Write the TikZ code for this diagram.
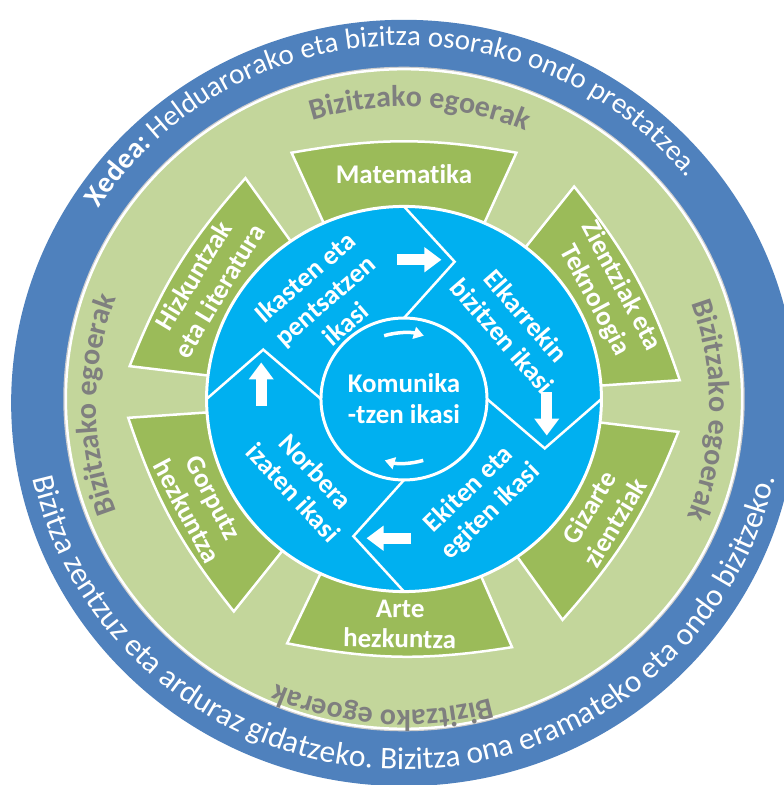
\documentclass[tikz,border=0pt]{standalone}
\usepackage{fontspec}
\setmainfont{Carlito}[Ligatures=NoCommon]
\usepackage{xcolor}
\definecolor{RINGCOLOR}{HTML}{4F81BD}
\definecolor{LIFECOLOR}{HTML}{C3D69B}
\definecolor{AREACOLOR}{HTML}{9BBB59}
\definecolor{CORECOLOR}{HTML}{00B0F0}
\definecolor{LIFETEXTCOLOR}{HTML}{7F7F7F}
\usepackage{tikz}
\usetikzlibrary{arrows.meta,calc,decorations.text}
\tikzset{
  main-style/.style = {x=1.0125pt, y=0.9875pt},
  area-style/.style = {
    fill=AREACOLOR, draw=white, line width=2.5pt
  },
  area-text/.style = {
    text=white, font=\fontsize{27}{30}\selectfont\bfseries,
    align=center, rotate=#1
  },
  core-text/.style = {
    text=white, font=\fontsize{27}{31}\selectfont\bfseries,
    align=center, rotate=#1
  },
  divider-style/.style = {draw=white, line width=2.5pt},
  flow-arrow/.style = {draw=white, line width=11pt, -{Triangle[length=17pt,width=24pt]}},
  turn-arrow/.style = {draw=white, line width=3.5pt, -{Triangle[length=10pt,width=12pt]}}
}
\newcommand\ringFont{\fontsize{29}{29}\selectfont\color{white}}
\newcommand\ringFontBig{\fontsize{31.5}{31.5}\selectfont\color{white}}
\newcommand\lifeFont{\fontsize{30}{30}\selectfont\bfseries\color{LIFETEXTCOLOR}}
\def\areaOuter{273}
\def\createArea angle:#1 turn:#2 name:#3 label:#4;{
  \path[area-style] (#1+24:150) -- (#1+24:\areaOuter) to[bend left=10] (#1-24:\areaOuter)
        -- (#1-24:150) -- cycle;
  \node[area-text=#2] (#3) at (#1:228) {#4};
}
\def\createLife angle:#1 radius:#2;{
  \path[decorate, decoration={text along path, text align=center,
        text={|\lifeFont|Bizitzako egoerak}}]
    (0,-6) ++(#1+40:#2) arc[start angle=#1+40, end angle=#1-40, radius=#2];
}

\begin{document}
\begin{tikzpicture}[main-style]
  \fill[white] (-404pt,-386pt) rectangle (380pt,399pt);
  \useasboundingbox (-404pt,-386pt) rectangle (380pt,399pt);

  % outer rings
  \fill[RINGCOLOR] (0,-4) circle[radius=388];
  \fill[gray!40] (0,0) circle[radius=336.5];
  \path[fill=LIFECOLOR, draw=white, line width=2.5pt] (0,0) circle[radius=334];
  \path[decorate, decoration={text along path, text align=center,
        text={|\ringFont\bfseries|Xedea: |\ringFont|Helduarorako eta bizitza osorako ondo prestatzea.}}]
    (180:358) arc[start angle=180, end angle=6, radius=358];
  \path[decorate, decoration={text along path, text align=center,
        text={|\ringFontBig|Bizitza zentzuz eta arduraz gidatzeko. Bizitza ona eramateko eta ondo bizitzeko.}}]
    (181:375) arc[start angle=181, end angle=359, radius=375];
  \createLife angle:87 radius:302;
  \createLife angle:-1 radius:302;
  \createLife angle:-94 radius:309;
  \createLife angle:180 radius:304;

  % subject areas
  \createArea angle:90 turn:0 name:math label:{Matematika};
  \createArea angle:28 turn:-62 name:science label:{Zientziak eta\\Teknologia};
  \createArea angle:-31 turn:59 name:social label:{Gizarte\\zientziak};
  \createArea angle:-91 turn:-1 name:art label:{Arte\\hezkuntza};
  \createArea angle:-152 turn:-62 name:body label:{Gorputz\\hezkuntza};
  \createArea angle:149 turn:59 name:lang label:{Hizkuntzak\\eta Literatura};

  % core
  \path[fill=CORECOLOR, draw=white, line width=3pt] (0,0) circle[radius=195];
  \foreach \a in {90,0,-90,180} {
    \draw[divider-style] (\a:195) -- ($(\a:139)+(\a-90:50)$) -- (\a:82);
    \draw[flow-arrow] ($(\a:141)+(\a-90:-7)$) -- ($(\a:141)+(\a-90:37)$);
  }
  \draw[divider-style, line width=3pt] (0,0) circle[radius=82];
  \draw[turn-arrow] (107:67) arc[start angle=107, end angle=73, radius=67];
  \draw[turn-arrow] (-73:65) arc[start angle=-73, end angle=-107, radius=65];

  \node[core-text=0] (talk) at (0,0) {Komunika\\-tzen ikasi};
  \node[core-text=41] (learn) at (-78,100) {Ikasten eta\\pentsatzen\\ikasi};
  \node[core-text=-49] (together) at (109,74) {Elkarrekin\\bizitzen ikasi};
  \node[core-text=44] (act) at (75,-103) {Ekiten eta\\egiten ikasi};
  \node[core-text=-47] (self) at (-98,-84) {Norbera\\izaten ikasi};
\end{tikzpicture}
\end{document}
